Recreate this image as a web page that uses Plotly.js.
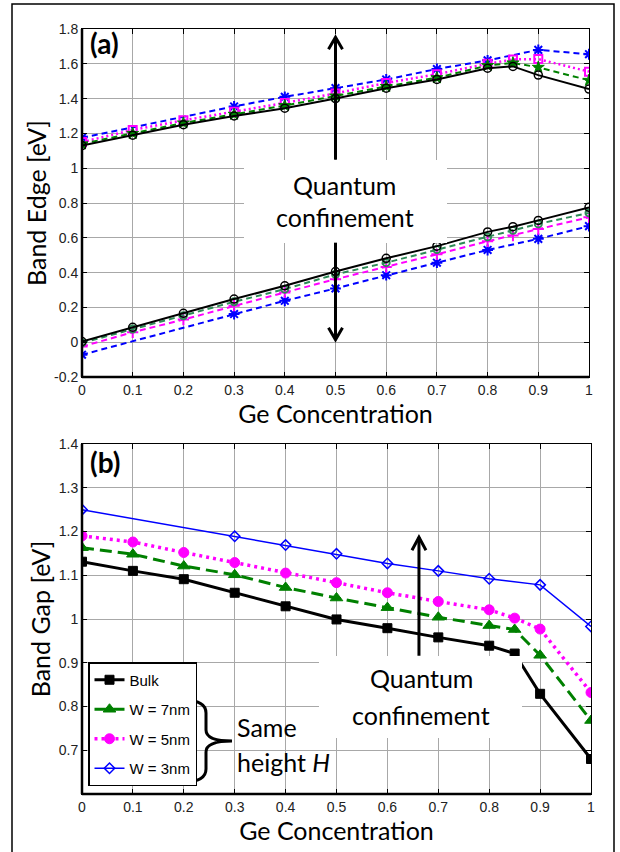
<!DOCTYPE html>
<html>
<head>
<meta charset="utf-8">
<script src="https://cdn.plot.ly/plotly-3.0.1.min.js"></script>
<style>html,body{margin:0;padding:0;background:#fff;}#plot{width:620px;height:852px;}</style>
</head>
<body>
<div id="plot"></div>
<script>
// ---- data ----
const geX = [0, 0.1, 0.2, 0.3, 0.4, 0.5, 0.6, 0.7, 0.8, 0.85, 0.9, 1];
const geX3 = [0, 0.3, 0.4, 0.5, 0.6, 0.7, 0.8, 0.9, 1];
const xTickVals = [0, 0.1, 0.2, 0.3, 0.4, 0.5, 0.6, 0.7, 0.8, 0.9, 1];
const xTickText = ["0", "0.1", "0.2", "0.3", "0.4", "0.5", "0.6", "0.7", "0.8", "0.9", "1"];
const edgeTickVals = [-0.2, 0, 0.2, 0.4, 0.6, 0.8, 1, 1.2, 1.4, 1.6, 1.8];
const edgeTickText = ["-0.2", "0", "0.2", "0.4", "0.6", "0.8", "1", "1.2", "1.4", "1.6", "1.8"];
const gapTickVals = [0.7, 0.8, 0.9, 1, 1.1, 1.2, 1.3, 1.4];
const gapTickText = ["0.7", "0.8", "0.9", "1", "1.1", "1.2", "1.3", "1.4"];

// (a) band edges: conduction (upper) and valence (lower)
const cbBulk = [1.13, 1.19, 1.25, 1.30, 1.345, 1.40, 1.46, 1.51, 1.575, 1.585, 1.535, 1.455];
const cbW7   = [1.14, 1.20, 1.26, 1.31, 1.36, 1.415, 1.47, 1.52, 1.59, 1.605, 1.58, 1.505];
const cbW5   = [1.15, 1.22, 1.275, 1.325, 1.375, 1.43, 1.49, 1.54, 1.60, 1.625, 1.627, 1.555];
const cbW3   = [1.175, 1.355, 1.41, 1.46, 1.51, 1.57, 1.62, 1.68, 1.655];
const vbBulk = [0.004, 0.086, 0.166, 0.248, 0.324, 0.406, 0.482, 0.552, 0.634, 0.664, 0.70, 0.775];
const vbW7   = [-0.004, 0.076, 0.152, 0.232, 0.305, 0.39, 0.457, 0.533, 0.605, 0.643, 0.68, 0.743];
const vbW5   = [-0.025, 0.057, 0.13, 0.21, 0.286, 0.362, 0.432, 0.505, 0.58, 0.613, 0.65, 0.718];
const vbW3   = [-0.072, 0.162, 0.238, 0.309, 0.385, 0.457, 0.53, 0.594, 0.667];

// (b) band gap
const gapBulk = [1.131, 1.11, 1.091, 1.06, 1.029, 0.999, 0.979, 0.958, 0.939, 0.921, 0.829, 0.68];
const gapW7   = [1.163, 1.148, 1.121, 1.101, 1.072, 1.048, 1.026, 1.004, 0.985, 0.976, 0.917, 0.768];
const gapW5   = [1.19, 1.176, 1.152, 1.129, 1.105, 1.083, 1.06, 1.04, 1.021, 1.002, 0.977, 0.832];
const gapW3   = [1.25, 1.189, 1.169, 1.149, 1.127, 1.11, 1.092, 1.078, 0.983];
const seriesNames = ["Bulk", "W = 7nm", "W = 5nm", "W = 3nm"];

// ---- layout helpers ----
const W = 620, H = 852;
const px = v => v / W;
const py = v => 1 - v / H;
const TXT = "Lato, 'Open Sans', sans-serif";
const TICK = "'Liberation Sans', Arial, sans-serif";

function sc(xa, ya, x, y, color, dash, width, symbol, msize, mline, name, legend) {
  return {
    x: x, y: y, xaxis: xa, yaxis: ya, type: 'scatter', mode: 'lines+markers',
    name: name, showlegend: !!legend, legendgroup: legend ? name : undefined,
    line: {color: color, dash: dash, width: width},
    marker: {symbol: symbol, size: msize, color: color, line: {color: color, width: mline}},
    hoverinfo: 'skip'
  };
}

const data = [
  sc('x', 'y', geX3, cbW3, '#0000ff', '6px,4px', 2, 'asterisk-open', 9, 2, 'a1'),
  sc('x', 'y', geX, cbW5, '#ff00ff', '2px,3px', 2.5, 'square-open', 8, 2, 'a2'),
  sc('x', 'y', geX, cbW7, '#008000', '6px,4px', 2, 'star', 9, 1, 'a3'),
  sc('x', 'y', geX, cbBulk, '#000000', 'solid', 2, 'circle-open', 8, 1.5, 'a4'),
  sc('x', 'y', geX3, vbW3, '#0000ff', '6px,4px', 2, 'asterisk-open', 9, 2, 'a5'),
  sc('x', 'y', geX, vbW5, '#ff00ff', '6px,4px', 2, 'cross-thin-open', 8, 2, 'a6'),
  sc('x', 'y', geX, vbW7, '#2e8b57', '6px,4px', 2, 'circle-open', 7, 2, 'a7'),
  sc('x', 'y', geX, vbBulk, '#000000', 'solid', 2, 'circle-open', 8, 1.5, 'a8'),
  sc('x2', 'y2', geX, gapBulk, '#000000', 'solid', 3, 'square', 9, 1, seriesNames[0], true),
  sc('x2', 'y2', geX, gapW7, '#008000', '12px,6px', 3, 'triangle-up', 11, 1, seriesNames[1], true),
  sc('x2', 'y2', geX, gapW5, '#ff00ff', '3px,4px', 3.5, 'circle', 10, 1, seriesNames[2], true),
  sc('x2', 'y2', geX3, gapW3, '#0000ff', 'solid', 1.5, 'diamond-open', 8, 1.5, seriesNames[3], true)
];

function xax(domain, anchor) {
  return {
    domain: domain, anchor: anchor, range: [0, 1], tickvals: xTickVals, ticktext: xTickText,
    ticks: 'inside', ticklen: 5, tickwidth: 1, tickcolor: '#000',
    showline: true, linecolor: '#000', linewidth: 1, mirror: 'ticks',
    showgrid: true, gridcolor: '#a8a8a8', gridwidth: 1, zeroline: false,
    tickfont: {family: TICK, size: 14, color: '#222'},
    title: {text: 'Ge Concentration', font: {family: TXT, size: 25, color: '#000'}, standoff: 2}
  };
}
function yax(domain, anchor, range, tv, tt, title) {
  return {
    domain: domain, anchor: anchor, range: range, tickvals: tv, ticktext: tt,
    ticks: 'inside', ticklen: 5, tickwidth: 1, tickcolor: '#000',
    showline: true, linecolor: '#000', linewidth: 1, mirror: 'ticks',
    showgrid: true, gridcolor: '#a8a8a8', gridwidth: 1, zeroline: false,
    tickfont: {family: TICK, size: 14, color: '#222'},
    title: {text: title, font: {family: TXT, size: 25, color: '#000'}, standoff: 0}
  };
}

const shapes = [
  // outer frame
  {type: 'rect', xref: 'paper', yref: 'paper', x0: px(12), x1: px(614), y0: -0.01, y1: py(4), line: {color: '#000', width: 1.5}},
  // thick left/bottom axes
  {type: 'line', xref: 'x domain', yref: 'y domain', x0: 0, x1: 0, y0: 0, y1: 1, line: {color: '#000', width: 2.5}, layer: 'above'},
  {type: 'line', xref: 'x domain', yref: 'y domain', x0: 0, x1: 1, y0: 0, y1: 0, line: {color: '#000', width: 2.5}, layer: 'above'},
  {type: 'line', xref: 'x2 domain', yref: 'y2 domain', x0: 0, x1: 0, y0: 0, y1: 1, line: {color: '#000', width: 2.5}, layer: 'above'},
  {type: 'line', xref: 'x2 domain', yref: 'y2 domain', x0: 0, x1: 1, y0: 0, y1: 0, line: {color: '#000', width: 2.5}, layer: 'above'},
  // white boxes behind annotation text
  {type: 'rect', xref: 'paper', yref: 'paper', x0: px(244), x1: px(447), y0: py(243), y1: py(160), fillcolor: '#fff', line: {width: 0}, layer: 'above'},
  {type: 'rect', xref: 'paper', yref: 'paper', x0: px(319), x1: px(522), y0: py(738), y1: py(656), fillcolor: '#fff', line: {width: 0}, layer: 'above'},
  // arrows (a)
  {type: 'line', xref: 'x', yref: 'y', x0: 0.5, x1: 0.5, y0: 1.049, y1: 1.752, line: {color: '#000', width: 3}, layer: 'above'},
  {type: 'path', xref: 'x', yref: 'y', xsizemode: 'pixel', ysizemode: 'pixel', xanchor: 0.5, yanchor: 1.752,
   path: 'M -7,-12 L 0,0 L 7,-12', line: {color: '#000', width: 3}, layer: 'above'},
  {type: 'line', xref: 'x', yref: 'y', x0: 0.5, x1: 0.5, y0: 0.572, y1: 0.014, line: {color: '#000', width: 3}, layer: 'above'},
  {type: 'path', xref: 'x', yref: 'y', xsizemode: 'pixel', ysizemode: 'pixel', xanchor: 0.5, yanchor: 0.014,
   path: 'M -7,12 L 0,0 L 7,12', line: {color: '#000', width: 3}, layer: 'above'},
  // arrow (b)
  {type: 'line', xref: 'x2', yref: 'y2', x0: 0.662, x1: 0.662, y0: 0.916, y1: 1.187, line: {color: '#000', width: 3}, layer: 'above'},
  {type: 'path', xref: 'x2', yref: 'y2', xsizemode: 'pixel', ysizemode: 'pixel', xanchor: 0.662, yanchor: 1.187,
   path: 'M -7,-13 L 0,0 L 7,-13', line: {color: '#000', width: 3}, layer: 'above'},
  // curly brace
  {type: 'path', xref: 'paper', yref: 'paper', layer: 'above', line: {color: '#000', width: 3},
   path: 'M ' + px(183) + ',' + py(700) + ' Q ' + px(206) + ',' + py(700) + ' ' + px(206) + ',' + py(713) +
         ' L ' + px(206) + ',' + py(730) + ' Q ' + px(206) + ',' + py(741) + ' ' + px(232) + ',' + py(741) +
         ' Q ' + px(206) + ',' + py(741) + ' ' + px(206) + ',' + py(752) +
         ' L ' + px(206) + ',' + py(769) + ' Q ' + px(206) + ',' + py(782) + ' ' + px(183) + ',' + py(782)}
];

const annotations = [
  {xref: 'paper', yref: 'paper', x: px(88), y: py(43), xanchor: 'left', yanchor: 'middle', showarrow: false,
   text: '<b>(a)</b>', font: {family: TXT, size: 28, color: '#000'}},
  {xref: 'paper', yref: 'paper', x: px(88), y: py(462), xanchor: 'left', yanchor: 'middle', showarrow: false,
   text: '<b>(b)</b>', font: {family: TXT, size: 28, color: '#000'}},
  {xref: 'paper', yref: 'paper', x: px(345), y: py(185), xanchor: 'center', yanchor: 'middle', showarrow: false,
   text: 'Quantum', font: {family: TXT, size: 25, color: '#000'}},
  {xref: 'paper', yref: 'paper', x: px(345), y: py(217), xanchor: 'center', yanchor: 'middle', showarrow: false,
   text: 'confinement', font: {family: TXT, size: 25, color: '#000'}},
  {xref: 'paper', yref: 'paper', x: px(421), y: py(678), xanchor: 'center', yanchor: 'middle', showarrow: false,
   text: 'Quantum', font: {family: TXT, size: 25, color: '#000'}},
  {xref: 'paper', yref: 'paper', x: px(421), y: py(715), xanchor: 'center', yanchor: 'middle', showarrow: false,
   text: 'confinement', font: {family: TXT, size: 25, color: '#000'}},
  {xref: 'paper', yref: 'paper', x: px(235), y: py(727), xanchor: 'left', yanchor: 'middle', showarrow: false,
   text: 'Same', font: {family: TXT, size: 25, color: '#000'}},
  {xref: 'paper', yref: 'paper', x: px(235), y: py(762), xanchor: 'left', yanchor: 'middle', showarrow: false,
   text: 'height <i>H</i>', font: {family: TXT, size: 25, color: '#000'}}
];

const layout = {
  width: W, height: H,
  margin: {l: 0, r: 0, t: 0, b: 0},
  paper_bgcolor: '#fff', plot_bgcolor: '#fff',
  xaxis: xax([px(82), px(589)], 'y'),
  yaxis: yax([py(377), py(29)], 'x', [-0.2, 1.8], edgeTickVals, edgeTickText, 'Band Edge [eV]'),
  xaxis2: xax([px(82), px(591)], 'y2'),
  yaxis2: yax([py(794), py(444)], 'x2', [0.6, 1.4], gapTickVals, gapTickText, 'Band Gap [eV]'),
  showlegend: true,
  legend: {
    x: px(88), y: py(662), xanchor: 'left', yanchor: 'top',
    bgcolor: '#fff', bordercolor: '#000', borderwidth: 1.5,
    font: {family: TICK, size: 15, color: '#000'},
    itemwidth: 30, tracegroupgap: 7, traceorder: 'grouped'
  },
  shapes: shapes,
  annotations: annotations
};

Plotly.newPlot('plot', data, layout, {displayModeBar: false, staticPlot: true});
</script>
</body>
</html>
